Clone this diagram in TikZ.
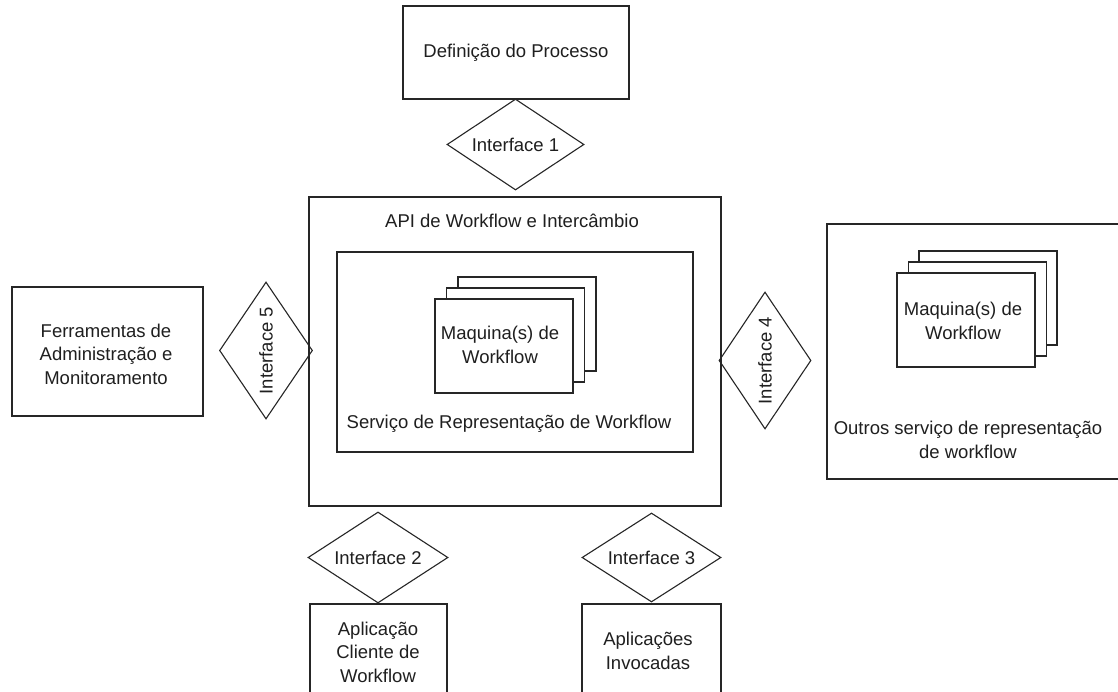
\documentclass[tikz,border=0pt]{standalone}
\usepackage{fontspec}
\setmainfont{Liberation Sans}
\usetikzlibrary{shapes.geometric}
\begin{document}
\begin{tikzpicture}[x=1pt,y=-1pt,
  every node/.style={font=\fontsize{18.5}{23.5}\selectfont, text=black!88},
  box/.style={draw=black!85, line width=1.3pt, rectangle, inner sep=0pt, fill=white},
  card/.style={draw=black!85, line width=1.1pt, rectangle, inner sep=0pt, fill=white,
    minimum width=138pt, minimum height=94pt},
  iface/.style={draw=black!85, line width=1.1pt, diamond, inner sep=0pt},
  txt/.style={align=center, inner sep=0pt}]
\clip (0,0) rectangle (1118,692);
\fill[white] (0,0) rectangle (1118,692);

% process definition and interface 1
\node[box, minimum width=226pt, minimum height=93pt] (proc) at (516,52.5) {};
\node[txt] (proct) at (proc) {Definição do Processo};
\node[iface, minimum width=137pt, minimum height=91pt] (i1) at (515.5,144.5) {};
\node[txt] (i1t) at (i1) {Interface 1};

% workflow API and enactment service
\node[box, minimum width=412pt, minimum height=309pt] (api) at (515,351.5) {};
\node[txt] (apit) at (512,221) {API de Workflow e Intercâmbio};
\node[box, minimum width=356pt, minimum height=200pt] (serv) at (515,352) {};
\node[txt] (servt) at (509,424) {Serviço de Representação de Workflow};
\node[card] (m3) at (527,324) {};
\node[card] (m2) at (515.5,335) {};
\node[card] (m1) at (504,346) {};
\node[txt] (m1t) at (500,345) {Maquina(s) de\\Workflow};

% administration tools and interface 5
\node[box, minimum width=191pt, minimum height=129pt] (adm) at (107.5,351.5) {};
\node[txt] (admt) at (106,354) {Ferramentas de\\Administração e\\Monitoramento};
\node[iface, minimum width=93pt, minimum height=137pt] (i5) at (266,350.5) {};
\node[txt, rotate=90] (i5t) at (i5) {Interface 5};

% other enactment services and interface 4
\node[box, minimum width=300pt, minimum height=255pt] (oth) at (977,351.5) {};
\node[card] (r3) at (988,298) {};
\node[card] (r2) at (977.5,309) {};
\node[card] (r1) at (966,320) {};
\node[txt] (r1t) at (963,321) {Maquina(s) de\\Workflow};
\node[txt] (otht) at (968,440) {Outros serviço de representação\\de workflow};
\node[iface, minimum width=92pt, minimum height=137pt] (i4) at (765,360.5) {};
\node[txt, rotate=90] (i4t) at (i4) {Interface 4};

% client applications and interface 2
\node[iface, minimum width=140pt, minimum height=91pt] (i2) at (378,557.5) {};
\node[txt] (i2t) at (i2) {Interface 2};
\node[box, minimum width=137pt, minimum height=96pt] (cli) at (378.5,652) {};
\node[txt] (clit) at (378,652) {Aplicação\\Cliente de\\Workflow};

% invoked applications and interface 3
\node[iface, minimum width=139pt, minimum height=89pt] (i3) at (651.5,557.5) {};
\node[txt] (i3t) at (i3) {Interface 3};
\node[box, minimum width=139pt, minimum height=92pt] (inv) at (651.5,650) {};
\node[txt] (invt) at (648,651) {Aplicações\\Invocadas};
\end{tikzpicture}
\end{document}
